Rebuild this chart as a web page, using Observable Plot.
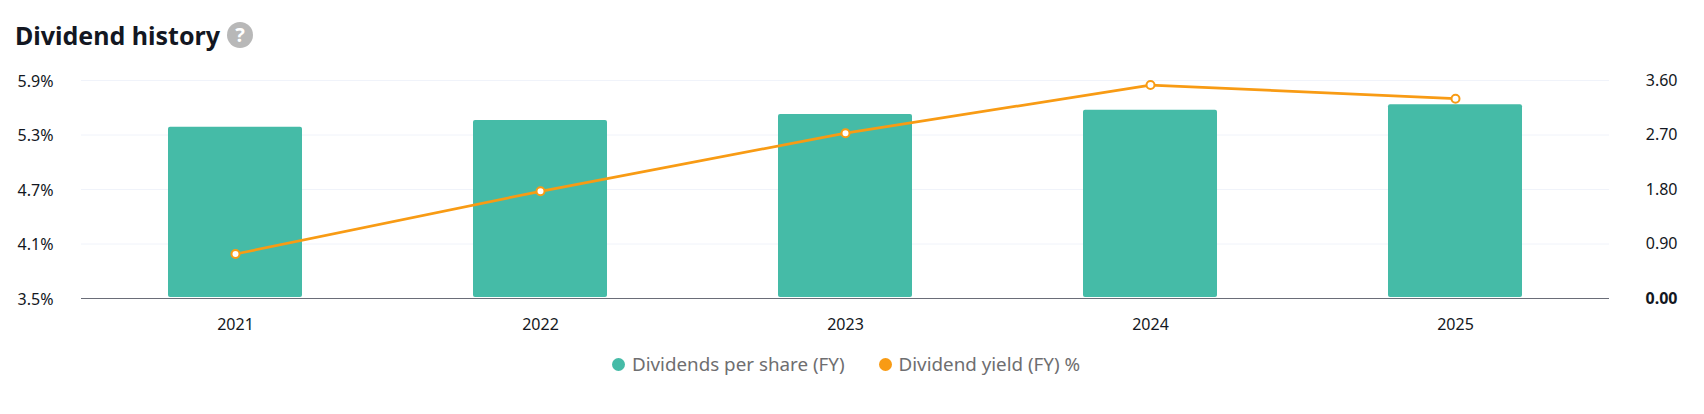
<!DOCTYPE html>
<html>
<head>
<meta charset="utf-8">
<script src="https://cdn.jsdelivr.net/npm/d3@7"></script>
<script src="https://cdn.jsdelivr.net/npm/@observablehq/plot@0.6"></script>
<style>
  html, body { margin: 0; padding: 0; background: #fff; }
  body { width: 1704px; height: 414px; font-family: "Noto Sans", sans-serif; color: #131722; position: relative; overflow: hidden; }
  #title { position: absolute; left: 15px; top: 16px; height: 38px; display: flex; align-items: center; font-size: 25px; font-weight: bold; color: #131722; }
  #title .q { display: inline-block; width: 26px; height: 26px; border-radius: 50%; background: #b8b8b8; color: #fff; font-size: 20px; line-height: 26px; text-align: center; margin-left: 7px; font-weight: bold; }
  #chart { position: absolute; left: 0; top: 60px; }
  #legend { position: absolute; left: 612px; top: 351px; display: flex; align-items: center; font-size: 18.8px; color: #6e6e70; }
  #legend .item { display: flex; align-items: center; margin-right: 34px; }
  #legend .sw { width: 13px; height: 13px; border-radius: 50%; margin-right: 7px; }
</style>
</head>
<body>
<div id="title">Dividend history<span class="q">?</span></div>
<div id="chart"></div>
<div id="legend"></div>
<script>
const years = ["2021", "2022", "2023", "2024", "2025"];
const dividendsPerShare = [2.83, 2.94, 3.04, 3.11, 3.20];
const dividendYield = [3.99, 4.68, 5.32, 5.85, 5.70];
const leftTickValues = [3.5, 4.1, 4.7, 5.3, 5.9];
const leftTickLabels = ["3.5%", "4.1%", "4.7%", "5.3%", "5.9%"];
const rightTickValues = [0, 0.9, 1.8, 2.7, 3.6];
const rightTickLabels = ["0.00", "0.90", "1.80", "2.70", "3.60"];
const seriesNames = ["Dividends per share (FY)", "Dividend yield (FY) %"];
const seriesColors = ["#45bba7", "#f89b14"];

// left (yield) axis mapped onto the right (dividend) scale
const yieldDomain = [leftTickValues[0], leftTickValues[leftTickValues.length - 1]];
const rightMax = rightTickValues[rightTickValues.length - 1];
const toRight = v => (v - yieldDomain[0]) / (yieldDomain[1] - yieldDomain[0]) * rightMax;

const data = years.map((year, i) => ({year, dps: dividendsPerShare[i], yld: dividendYield[i]}));
const font = "'Noto Sans', sans-serif";

const chart = Plot.plot({
  width: 1704,
  height: 278,
  marginTop: 20,
  marginBottom: 40,
  marginLeft: 81,
  marginRight: 95,
  style: {fontFamily: font, fontSize: "16px", color: "#131722", background: "#fff"},
  x: {domain: years, paddingInner: 0.56, paddingOuter: 0.28, axis: null},
  y: {domain: [0, rightMax], axis: null},
  marks: [
    Plot.ruleY(rightTickValues.slice(1), {stroke: "#f0f3fa", strokeWidth: 1}),
    Plot.barY(data, {x: "year", y: "dps", fill: seriesColors[0], rx: 2, insetBottom: 1}),
    Plot.ruleY([0], {stroke: "#6a6d78", strokeWidth: 1}),
    Plot.line(data, {x: "year", y: d => toRight(d.yld), stroke: seriesColors[1], strokeWidth: 2.7}),
    Plot.dot(data, {x: "year", y: d => toRight(d.yld), r: 4, fill: "#fff", stroke: seriesColors[1], strokeWidth: 2}),
    Plot.axisX({tickSize: 0, tickPadding: 20, fontSize: 16, fill: "#131722", label: null}),
    Plot.axisY(rightTickValues, {anchor: "left", tickSize: 0, tickPadding: 28, dy: 1, fontSize: 16, fill: "#131722", label: null,
      tickFormat: d => leftTickLabels[rightTickValues.indexOf(d)]}),
    Plot.axisY(rightTickValues.slice(1), {anchor: "right", tickSize: 0, tickPadding: 68, textAnchor: "end", fontSize: 16, fill: "#131722", label: null,
      tickFormat: d => rightTickLabels[rightTickValues.indexOf(d)]}),
    Plot.axisY(rightTickValues.slice(0, 1), {anchor: "right", tickSize: 0, tickPadding: 68, textAnchor: "end", fontSize: 16, fontWeight: "bold", fill: "#131722", label: null,
      tickFormat: d => rightTickLabels[rightTickValues.indexOf(d)]})
  ]
});
document.getElementById("chart").appendChild(chart);

const legend = document.getElementById("legend");
seriesNames.forEach((name, i) => {
  const item = document.createElement("div");
  item.className = "item";
  const sw = document.createElement("span");
  sw.className = "sw";
  sw.style.background = seriesColors[i];
  const label = document.createElement("span");
  label.textContent = name;
  item.appendChild(sw);
  item.appendChild(label);
  legend.appendChild(item);
});
</script>
</body>
</html>
